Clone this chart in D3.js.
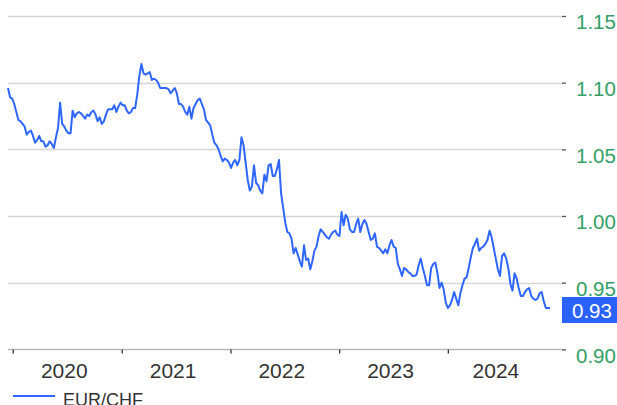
<!DOCTYPE html>
<html>
<head>
<meta charset="utf-8">
<script src="https://cdn.jsdelivr.net/npm/d3@7"></script>
<style>
	body { margin: 0; background: #fff; }
	svg { display: block; font-family: "Liberation Sans", Arial, sans-serif; }
</style>
</head>
<body>
<div id="chart"></div>
<script>
// weekly closes, first week starts on this monday
var start_date = "2019-12-16";

var eurchf = [
	1.096,1.089,1.088,1.084,1.078,1.072,1.071,1.069,1.067,1.061,
	1.063,1.064,1.060,1.055,1.057,1.060,1.056,1.056,1.052,1.053,
	1.056,1.054,1.051,1.059,1.066,1.085,1.069,1.067,1.064,1.062,
	1.062,1.079,1.074,1.077,1.078,1.077,1.075,1.073,1.076,1.075,
	1.078,1.079,1.076,1.071,1.074,1.069,1.071,1.076,1.080,1.080,
	1.080,1.083,1.078,1.082,1.085,1.083,1.083,1.079,1.077,1.078,
	1.081,1.081,1.091,1.105,1.114,1.107,1.106,1.107,1.108,1.102,
	1.103,1.102,1.100,1.096,1.096,1.096,1.096,1.095,1.092,1.094,
	1.096,1.092,1.084,1.084,1.082,1.078,1.076,1.082,1.073,1.081,
	1.084,1.087,1.088,1.084,1.080,1.072,1.070,1.068,1.061,1.055,
	1.053,1.050,1.045,1.041,1.043,1.042,1.040,1.036,1.040,1.042,
	1.038,1.042,1.059,1.053,1.040,1.027,1.019,1.022,1.038,1.025,
	1.023,1.019,1.017,1.031,1.026,1.038,1.039,1.030,1.030,1.035,
	1.042,1.017,1.006,0.995,0.988,0.987,0.983,0.972,0.976,0.971,
	0.966,0.962,0.978,0.967,0.968,0.960,0.966,0.974,0.977,0.985,
	0.990,0.988,0.986,0.984,0.983,0.986,0.988,0.989,0.986,0.985,
	1.003,0.993,1.001,0.998,0.990,0.988,0.988,0.994,0.998,0.988,
	0.994,0.997,0.994,0.988,0.982,0.983,0.987,0.977,0.976,0.974,
	0.972,0.975,0.972,0.978,0.982,0.977,0.976,0.964,0.960,0.955,
	0.961,0.960,0.958,0.957,0.955,0.955,0.956,0.963,0.968,0.961,
	0.955,0.948,0.948,0.961,0.964,0.965,0.957,0.946,0.950,0.945,
	0.935,0.931,0.933,0.937,0.943,0.938,0.933,0.942,0.948,0.953,
	0.954,0.961,0.969,0.976,0.979,0.983,0.974,0.976,0.977,0.979,
	0.982,0.989,0.984,0.976,0.968,0.960,0.955,0.970,0.972,0.968,
	0.961,0.949,0.944,0.957,0.953,0.946,0.940,0.940,0.943,0.945,
	0.946,0.940,0.938,0.937,0.938,0.942,0.943,0.936,0.931,0.931,
	0.931
];

var y_ticks = [0.90, 0.95, 1.00, 1.05, 1.10, 1.15];
var year_labels = ["2020", "2021", "2022", "2023", "2024"];
var series_name = "EUR/CHF";

var width = 617, height = 405;
var plot_left = 8, plot_right = 562, data_right = 550;
var line_color = "#2f66ff";

var first = d3.isoParse(start_date + "T00:00:00");
first = new Date(first.getUTCFullYear(), first.getUTCMonth(), first.getUTCDate());
var dates = d3.timeMonday.range(first, d3.timeMonday.offset(first, eurchf.length));
var data = dates.map(function(d, i) { return {date: d, value: eurchf[i]}; });

var x = d3.scaleTime()
	.domain([dates[0], dates[dates.length - 1]])
	.range([plot_left, data_right]);

var y = d3.scaleLinear()
	.domain([0.90, 1.15])
	.range([349.3, 16]);

var svg = d3.select("#chart").append("svg")
	.attr("width", width)
	.attr("height", height);

// grid lines
svg.append("g").selectAll("line")
	.data(y_ticks)
	.enter().append("line")
	.attr("x1", plot_left)
	.attr("x2", plot_right)
	.attr("y1", function(d) { return Math.round(y(d)) + 0.5; })
	.attr("y2", function(d) { return Math.round(y(d)) + 0.5; })
	.style("stroke", function(d) { return d == 0.90 ? "#b8b8b8" : "#d6d6d6"; })
	.style("stroke-width", 1.3);

// right axis
var y_axis = svg.append("g")
	.attr("transform", "translate(" + plot_right + ",0)")
	.call(d3.axisRight(y)
		.tickValues(y_ticks)
		.tickSize(4)
		.tickPadding(10)
		.tickFormat(d3.format(".2f")));
y_axis.select(".domain").remove();
y_axis.selectAll(".tick line").style("stroke", "#555").style("stroke-width", 1.3);
y_axis.selectAll(".tick text")
	.attr("dy", "0.95em")
	.attr("y", -6.5)
	.style("fill", "#35a065")
	.style("font-size", "20.5px")
	.style("font-family", "Liberation Sans, Arial, sans-serif");

// bottom axis, ticks on year boundaries
var year_starts = d3.timeYear.range(new Date(2020, 0, 1), new Date(2025, 0, 1));
var x_axis = svg.append("g")
	.attr("transform", "translate(0," + (Math.round(y(0.90)) + 0.5) + ")")
	.call(d3.axisBottom(x)
		.tickValues(year_starts)
		.tickSize(4)
		.tickFormat(""));
x_axis.select(".domain").remove();
x_axis.selectAll(".tick line").style("stroke", "#333").style("stroke-width", 1.3);

// year labels sit between ticks
svg.append("g").selectAll("text")
	.data(year_starts)
	.enter().append("text")
	.attr("x", function(d) {
		var next = Math.min(x(d3.timeYear.offset(d, 1)), data_right);
		return (x(d) + next) / 2 - 3;
	})
	.attr("y", 378)
	.attr("text-anchor", "middle")
	.style("fill", "#333")
	.style("font-size", "21px")
	.text(function(d, i) { return year_labels[i]; });

// the line
var line = d3.line()
	.x(function(d) { return x(d.date); })
	.y(function(d) { return y(d.value); });

svg.append("path")
	.datum(data)
	.attr("d", line)
	.style("fill", "none")
	.style("stroke", line_color)
	.style("stroke-width", 2)
	.style("stroke-linejoin", "round");

// last value tag
var last = data[data.length - 1];
var tag_y = y(last.value);
svg.append("rect")
	.attr("x", plot_right)
	.attr("y", tag_y - 11)
	.attr("width", width - plot_right)
	.attr("height", 26)
	.style("fill", "#2962ff");
svg.append("text")
	.attr("x", plot_right + 10)
	.attr("y", tag_y + 10.5)
	.style("fill", "#fff")
	.style("font-size", "20.5px")
	.text(d3.format(".2f")(last.value));

// legend
svg.append("line")
	.attr("x1", 13)
	.attr("x2", 55)
	.attr("y1", 396)
	.attr("y2", 396)
	.style("stroke", line_color)
	.style("stroke-width", 2);
svg.append("text")
	.attr("x", 63)
	.attr("y", 406)
	.style("fill", "#333")
	.style("font-size", "18px")
	.text(series_name);
</script>
</body>
</html>
